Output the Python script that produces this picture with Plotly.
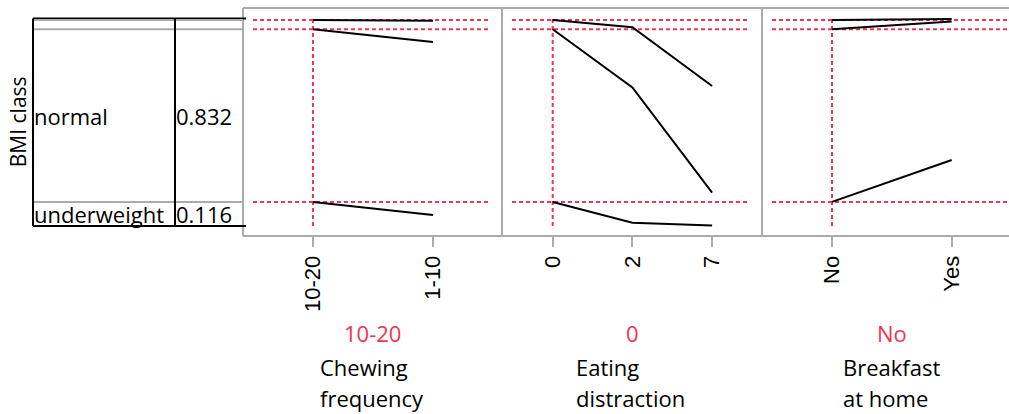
import plotly.graph_objects as go

W, H = 1009, 414

# ---------------- data ----------------
response_title = "BMI class"
class_names = ["underweight", "normal", "overweight", "obese"]
current_probs = [0.116, 0.832, 0.045, 0.007]

chew_levels = ["10-20", "1-10"]
chew_cum_under = [0.116, 0.053]
chew_cum_normal = [0.948, 0.887]
chew_cum_over = [0.993, 0.989]

dist_levels = ["0", "2", "7"]
dist_cum_under = [0.116, 0.016, 0.002]
dist_cum_normal = [0.948, 0.668, 0.161]
dist_cum_over = [0.993, 0.958, 0.675]

bf_levels = ["No", "Yes"]
bf_cum_under = [0.116, 0.318]
bf_cum_normal = [0.948, 0.986]
bf_cum_over = [0.993, 0.998]

factor_titles = [["Chewing", "frequency"], ["Eating", "distraction"], ["Breakfast", "at home"]]
current_levels = ["10-20", "0", "No"]

# ---------------- styling ----------------
RED = "rgb(240,52,82)"
GRAY = "#ababab"
FONT = "Open Sans"
TICKFONT = "Liberation Sans"
FS = 22

def px(x):
    return x / W

def py(y):
    return 1 - y / H

panel_px = [(243, 502), (502, 762), (762, 1021)]
title_left_px = [320, 576, 843]
x_ranges = [[-0.583, 1.575], [-0.636, 2.626], [-0.585, 1.479]]
y_dom = [py(236), py(8)]
y_range = [-0.0482, 1.0506]

panels = [
    (chew_levels, [chew_cum_under, chew_cum_normal, chew_cum_over]),
    (dist_levels, [dist_cum_under, dist_cum_normal, dist_cum_over]),
    (bf_levels, [bf_cum_under, bf_cum_normal, bf_cum_over]),
]

fig = go.Figure()
shapes = []
annotations = []

cum_current = []
s = 0
for p in current_probs:
    s += p
    cum_current.append(s)
boundaries = cum_current[:-1]

for i, (levels, curves) in enumerate(panels):
    k = "" if i == 0 else str(i + 1)
    xa, ya = "x" + k, "y" + k
    for c in curves:
        fig.add_trace(go.Scatter(x=levels, y=c, mode="lines", xaxis=xa, yaxis=ya,
                                 line=dict(color="black", width=2), showlegend=False,
                                 hoverinfo="skip"))
    l, r = panel_px[i]
    r_vis = min(r, W)
    fig.layout["xaxis" + k] = dict(
        domain=[px(l), px(r_vis)], anchor=ya, type="category",
        categoryorder="array", categoryarray=levels, range=x_ranges[i],
        showgrid=False, zeroline=False, showline=False,
        ticks="outside", ticklen=10, tickwidth=2, tickcolor=GRAY,
        tickangle=-90, tickfont=dict(family=TICKFONT, size=22, color="black"),
    )
    fig.layout["yaxis" + k] = dict(
        domain=y_dom, anchor=xa, range=y_range, showgrid=False, zeroline=False,
        showline=False, showticklabels=False, ticks="",
    )
    # panel border
    for (x0, y0, x1, y1) in [(l, 8, r_vis, 8), (l, 236, r_vis, 236), (l, 8, l, 236)] + \
            ([(r, 8, r, 236)] if r <= W else []):
        shapes.append(dict(type="line", xref="paper", yref="paper",
                           x0=px(x0), x1=px(x1), y0=py(y0), y1=py(y1),
                           line=dict(color=GRAY, width=2), layer="below"))
    # reference lines at current setting
    xr0 = px(l + 10)
    xr1 = px(min(r - 13, W))
    for b in boundaries:
        shapes.append(dict(type="line", xref="paper", yref=ya, x0=xr0, x1=xr1, y0=b, y1=b,
                           line=dict(color=RED, width=2, dash="4px,3px"), layer="below"))
    idx = levels.index(current_levels[i])
    shapes.append(dict(type="line", xref=xa, yref=ya, x0=idx, x1=idx, y0=0, y1=1,
                       line=dict(color=RED, width=2, dash="4px,3px"), layer="below"))
    cx = px((l + r) / 2)
    annotations.append(dict(text=current_levels[i], xref="paper", yref="paper",
                            x=cx, y=py(333), xanchor="center", yanchor="middle",
                            showarrow=False, font=dict(family=FONT, size=FS, color=RED)))
    for j, line in enumerate(factor_titles[i]):
        annotations.append(dict(text=line, xref="paper", yref="paper",
                                x=px(title_left_px[i] - 2), y=py(367 + 31 * j),
                                xanchor="left", yanchor="middle",
                                showarrow=False, font=dict(family=FONT, size=FS, color="black")))

# ---------------- left table ----------------
TL, TM, TR = 33, 175, 246
shapes.append(dict(type="line", xref="paper", yref="y", x0=px(TL), x1=px(TR), y0=1, y1=1,
                   line=dict(color="black", width=2)))
shapes.append(dict(type="line", xref="paper", yref="y", x0=px(TL), x1=px(TR), y0=0, y1=0,
                   line=dict(color="black", width=2)))
for b in boundaries:
    shapes.append(dict(type="line", xref="paper", yref="y", x0=px(TL), x1=px(243), y0=b, y1=b,
                       line=dict(color=GRAY, width=2)))
for xv in (TL, TM):
    shapes.append(dict(type="line", xref="paper", yref="y", x0=px(xv), x1=px(xv), y0=0, y1=1,
                       line=dict(color="black", width=2)))

lo = 0
for name, p in zip(class_names, current_probs):
    mid = lo + p / 2
    lo += p
    if p < 0.08:
        continue
    annotations.append(dict(text=name, xref="paper", yref="y", x=px(TL - 1), y=mid,
                            xanchor="left", yanchor="middle", showarrow=False,
                            font=dict(family=FONT, size=FS, color="black")))
    annotations.append(dict(text=f"{p:.3f}", xref="paper", yref="y", x=px(TM - 1), y=mid,
                            xanchor="left", yanchor="middle", showarrow=False,
                            font=dict(family=FONT, size=FS, color="black")))

annotations.append(dict(text=response_title, xref="paper", yref="y", x=px(18), y=0.5,
                        xanchor="center", yanchor="middle", textangle=-90, showarrow=False,
                        font=dict(family=FONT, size=21, color="black")))

fig.update_layout(width=W, height=H, margin=dict(l=0, r=0, t=0, b=0),
                  paper_bgcolor="white", plot_bgcolor="white",
                  shapes=shapes, annotations=annotations, showlegend=False)

fig.write_html("out.html", config={"displayModeBar": False},
               post_script="document.body.style.margin='0';document.body.style.overflow='hidden';")
